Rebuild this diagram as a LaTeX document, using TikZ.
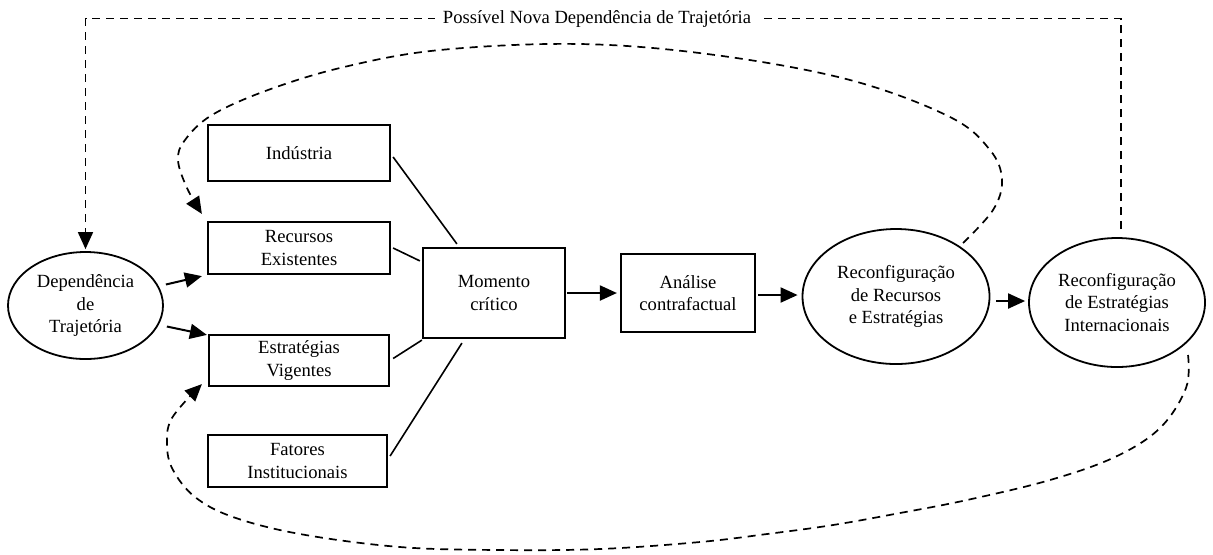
\documentclass[tikz,border=0pt]{standalone}
\usepackage{fontspec}
\setmainfont{Liberation Serif}
\usetikzlibrary{shapes.geometric,arrows.meta}
\begin{document}
\begin{tikzpicture}[x=0.5pt,y=-0.5pt,
  font=\fontsize{9.3}{11.2}\selectfont,
  box/.style={draw, line width=1.1pt, align=center, inner sep=0pt},
  oval/.style={ellipse, draw, line width=0.9pt, align=center, inner sep=0pt},
  link/.style={line width=0.8pt},
  arr/.style={line width=1pt, -{Triangle[length=8.5pt,width=7.5pt]}},
  dashline/.style={line width=0.85pt, dash pattern=on 4pt off 3pt},
  darr/.style={dashline, -{Triangle[length=8.5pt,width=7.5pt]}}]
\useasboundingbox (0,0) rectangle (1213,554);

% nodes
\node[oval, minimum width=77.5pt, minimum height=53.5pt] (dep) at (85.5,305.5) {Dependência\\de\\Trajetória};
\node[box, minimum width=91pt, minimum height=28pt] (ind) at (299,153) {Indústria};
\node[box, minimum width=91pt, minimum height=26pt] (rec) at (299,248) {Recursos\\Existentes};
\node[box, minimum width=90pt, minimum height=25.5pt] (est) at (299,360.5) {Estratégias\\Vigentes};
\node[box, minimum width=89.5pt, minimum height=26pt] (fat) at (297.5,461) {Fatores\\Institucionais};
\node[box, minimum width=71pt, minimum height=45pt] (mom) at (494,293) {Momento\\crítico};
\node[box, minimum width=67pt, minimum height=39pt] (ana) at (688,293) {Análise\\contrafactual};
\node[oval, minimum width=93.5pt, minimum height=67.5pt] (r1) at (896,296.5) {Reconfiguração\\de Recursos\\e Estratégias};
\node[oval, minimum width=88pt, minimum height=64.5pt] (r2) at (1117,302.5) {Reconfiguração\\de Estratégias\\Internacionais};

% solid links to Momento critico
\draw[link] ([shift={(2,4)}]ind.east) -- ([shift={(35,-3)}]mom.north west);
\draw[link] ([shift={(2,0)}]rec.east) -- ([shift={(-2,14)}]mom.north west);
\draw[link] ([shift={(3,-2)}]est.east) -- ([shift={(0,1)}]mom.south west);
\draw[link] ([shift={(2,-5)}]fat.east) -- ([shift={(40,4)}]mom.south west);

% arrows
\draw[arr] ([shift={(2,-21)}]dep.east) -- ([shift={(-5,1)}]rec.south west);
\draw[arr] ([shift={(3,21)}]dep.east) -- ([shift={(-1,1)}]est.north west);
\draw[arr] ([shift={(1,0)}]mom.east) -- ([shift={(-3,0)}]ana.west);
\draw[arr] ([shift={(2,2)}]ana.east) -- ([shift={(-4,-1.5)}]r1.west);
\draw[arr] ([shift={(6,4.5)}]r1.east) -- ([shift={(-3,-1.5)}]r2.west);

% top dashed feedback
\coordinate (tr) at (1121,18.5);
\coordinate (tl) at (85.5,18.5);
\draw[darr] ([shift={(4,-8)}]r2.north) -- (tr) -- (tl) -- ([shift={(0,-2)}]dep.north);
\node[fill=white, inner xsep=4pt, inner ysep=1pt] (lbl) at (597,18.5) {Possível Nova Dependência de Trajetória};

% upper dashed curve
\coordinate (u0) at ([shift={(67,-53.5)}]r1.center);
\coordinate (u1) at ([shift={(-5,-7)}]rec.north west);
\draw[darr] plot[smooth, tension=0.6] coordinates {(u0) (993,210) (1002,180) (990,150) (950,117) (850,80) (715,55) (580,44) (440,50) (344,67) (268,90) (212,115) (185,140) (178,160) (187,188) (u1)};

% lower dashed curve
\coordinate (l0) at ([shift={(71,52.5)}]r2.center);
\coordinate (l1) at ([shift={(-6,-3)}]est.south west);
\draw[darr] plot[smooth, tension=0.6] coordinates {(l0) (1186,388) (1160,428) (1115,457) (1050,480) (967,500) (900,513) (833,525) (767,534) (700,542) (600,549) (500,550) (400,547) (300,534) (233,517) (195,497) (173,470) (167,445) (172,418) (l1)};
\end{tikzpicture}
\end{document}
